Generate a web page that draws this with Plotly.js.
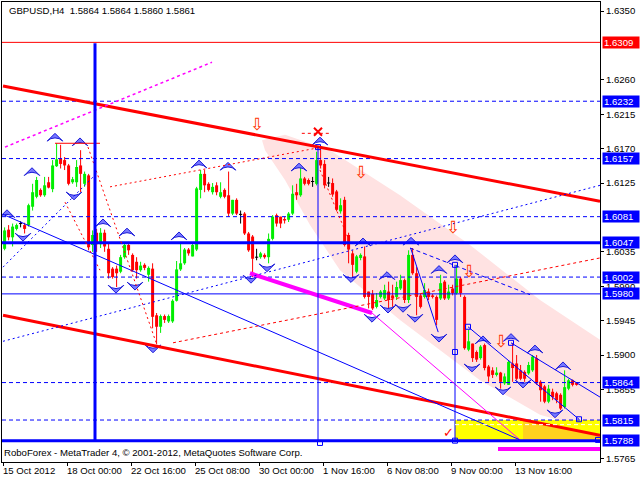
<!DOCTYPE html>
<html><head><meta charset="utf-8">
<script src="https://cdn.plot.ly/plotly-3.0.1.min.js"></script>
<style>html,body{margin:0;padding:0;background:#fff}#chart{width:640px;height:480px}</style>
</head><body><div id="chart"></div>
<script>
// ---- GBPUSD H4 candles (bar index = position) ----
const openP = [1.6039,1.6064,1.6054,1.6065,1.6072,1.6070,1.6070,1.6094,1.6107,1.6116,
1.6109,1.6126,1.6117,1.6147,1.6157,1.6155,1.6148,1.6126,1.6126,1.6148,
1.6124,1.6135,1.6044,1.6060,1.6045,1.6060,1.6039,1.6013,1.6013,1.6009,
1.6028,1.6044,1.6031,1.6022,1.6011,1.6018,1.6005,1.6013,1.5952,1.5937,
1.5951,1.5944,1.5944,1.5971,1.6012,1.6020,1.6038,1.6029,1.6038,1.6116,
1.6137,1.6124,1.6113,1.6122,1.6107,1.6116,1.6109,1.6085,1.6103,1.6084,
1.6085,1.6059,1.6055,1.6028,1.6028,1.6031,1.6028,1.6052,1.6083,1.6081,
1.6078,1.6077,1.6085,1.6113,1.6109,1.6131,1.6129,1.6127,1.6124,1.6155,
1.6150,1.6125,1.6125,1.6114,1.6088,1.6103,1.6057,1.6033,1.6009,1.6027,
1.6029,1.5983,1.5980,1.5963,1.5976,1.5974,1.5983,1.5978,1.5976,1.5987,
1.5998,1.5972,1.6031,1.6007,1.5978,1.5976,1.5983,1.5978,1.5976,1.5974,
1.5996,1.5974,1.5987,1.5981,1.6000,1.5976,1.5907,1.5915,1.5904,1.5896,
1.5913,1.5885,1.5880,1.5874,1.5877,1.5863,1.5861,1.5889,1.5889,1.5880,
1.5878,1.5876,1.5880,1.5896,1.5865,1.5859,1.5839,1.5852,1.5850,1.5848,
1.5832,1.5856,1.5867,1.5864];
const highP = [1.6067,1.6070,1.6072,1.6072,1.6075,1.6073,1.6098,1.6124,1.6133,1.6118,
1.6133,1.6133,1.6155,1.6177,1.6175,1.6159,1.6150,1.6133,1.6155,1.6168,
1.6140,1.6137,1.6063,1.6065,1.6066,1.6064,1.6046,1.6015,1.6017,1.6031,
1.6048,1.6048,1.6033,1.6028,1.6022,1.6020,1.6016,1.6020,1.5955,1.5953,
1.5953,1.5953,1.5973,1.6023,1.6047,1.6040,1.6040,1.6047,1.6120,1.6142,
1.6142,1.6126,1.6125,1.6126,1.6126,1.6118,1.6140,1.6103,1.6105,1.6089,
1.6087,1.6061,1.6057,1.6039,1.6035,1.6033,1.6059,1.6083,1.6085,1.6081,
1.6081,1.6087,1.6122,1.6124,1.6146,1.6133,1.6131,1.6133,1.6166,1.6172,
1.6155,1.6133,1.6131,1.6116,1.6105,1.6107,1.6060,1.6037,1.6031,1.6033,
1.6042,1.5983,1.5985,1.5981,1.5985,1.5992,1.5996,1.5992,1.5996,1.6005,
1.6000,1.6037,1.6040,1.6015,1.5980,1.5994,1.5987,1.5980,1.5978,1.6005,
1.5998,1.5992,1.5992,1.6018,1.6002,1.5978,1.5933,1.5915,1.5906,1.5913,
1.5915,1.5887,1.5884,1.5884,1.5878,1.5876,1.5893,1.5915,1.5900,1.5887,
1.5880,1.5891,1.5900,1.5900,1.5867,1.5861,1.5861,1.5856,1.5852,1.5850,
1.5880,1.5869,1.5868,1.5864];
const lowP = [1.6037,1.6050,1.6042,1.6063,1.6067,1.6059,1.6068,1.6089,1.6105,1.6107,
1.6107,1.6118,1.6113,1.6146,1.6144,1.6142,1.6122,1.6124,1.6120,1.6113,
1.6120,1.6037,1.6035,1.6035,1.6040,1.6035,1.6000,1.6000,1.5989,1.6007,
1.6026,1.6031,1.6009,1.6000,1.6009,1.6011,1.5996,1.5935,1.5914,1.5929,
1.5942,1.5942,1.5942,1.5970,1.6010,1.6018,1.6030,1.6029,1.6036,1.6105,
1.6113,1.6114,1.6110,1.6109,1.6105,1.6105,1.6081,1.6083,1.6083,1.6072,
1.6057,1.6035,1.6002,1.6024,1.6026,1.6026,1.6020,1.6050,1.6068,1.6066,
1.6072,1.6074,1.6083,1.6103,1.6107,1.6122,1.6122,1.6120,1.6122,1.6144,
1.6118,1.6120,1.6107,1.6088,1.6085,1.6042,1.6020,1.6000,1.6007,1.6024,
1.5974,1.5961,1.5959,1.5961,1.5974,1.5972,1.5961,1.5963,1.5972,1.5985,
1.5968,1.5968,1.6005,1.5952,1.5961,1.5974,1.5972,1.5974,1.5939,1.5972,
1.5972,1.5972,1.5978,1.5979,1.5976,1.5907,1.5905,1.5891,1.5891,1.5894,
1.5880,1.5865,1.5870,1.5872,1.5856,1.5861,1.5861,1.5865,1.5867,1.5867,
1.5865,1.5874,1.5878,1.5861,1.5839,1.5837,1.5837,1.5841,1.5837,1.5828,
1.5830,1.5854,1.5859,1.5860];
const closeP = [1.6063,1.6054,1.6068,1.6070,1.6072,1.6065,1.6096,1.6113,1.6129,1.6109,
1.6122,1.6119,1.6148,1.6156,1.6150,1.6148,1.6124,1.6130,1.6146,1.6137,
1.6137,1.6041,1.6057,1.6045,1.6060,1.6042,1.6007,1.6002,1.6007,1.6028,
1.6044,1.6037,1.6011,1.6011,1.6017,1.6014,1.6014,1.5950,1.5937,1.5951,
1.5946,1.5951,1.5971,1.6012,1.6020,1.6038,1.6033,1.6044,1.6118,1.6137,
1.6122,1.6116,1.6120,1.6113,1.6113,1.6107,1.6085,1.6103,1.6085,1.6084,
1.6059,1.6037,1.6026,1.6028,1.6033,1.6028,1.6052,1.6081,1.6072,1.6072,
1.6076,1.6085,1.6111,1.6109,1.6131,1.6124,1.6124,1.6127,1.6155,1.6148,
1.6122,1.6125,1.6110,1.6090,1.6096,1.6044,1.6038,1.6018,1.6029,1.6031,
1.5976,1.5976,1.5961,1.5972,1.5983,1.5985,1.5972,1.5974,1.5989,1.5998,
1.5972,1.6031,1.6007,1.5976,1.5963,1.5985,1.5976,1.5976,1.5946,1.5994,
1.5974,1.5983,1.5981,1.6000,1.5981,1.5909,1.5918,1.5896,1.5894,1.5911,
1.5883,1.5872,1.5874,1.5877,1.5865,1.5872,1.5891,1.5883,1.5869,1.5869,
1.5869,1.5887,1.5898,1.5863,1.5854,1.5839,1.5856,1.5845,1.5841,1.5830,
1.5858,1.5867,1.5861,1.5861];

const xTickBars = [0,16,32,48,64,80,96,112,128];
const xTickLabels = ['15 Oct 2012','18 Oct 00:00','22 Oct 16:00','25 Oct 08:00','30 Oct 00:00',
  '1 Nov 16:00','6 Nov 08:00','9 Nov 00:00','13 Nov 16:00'];
// price-scale ticks that are not hidden behind a level label
const yTickVals = [1.5765,1.5855,1.5900,1.5945,1.5990,1.6035,1.6125,1.6170,1.6215,1.6260,1.6350];

// horizontal levels and their right-axis labels
const levelPrices = [1.6309,1.6232,1.6157,1.6081,1.6047,1.6002,1.5980,1.5864,1.5815,1.5788];
const levelColors = ['#FF0000','#0000FF','#0000FF','#0000FF','#0000FF','#0000FF','#0000FF','#0000FF','#0000FF','#0000FF'];
const levelWidths = [1,1,1,1,3,1,1,1,1,3];
const levelDash   = ['solid','4px,3px','4px,3px','4px,3px','solid','4px,3px','solid','4px,3px','4px,3px','solid'];

// fractal arrows (bar, price)
const upArrowBar   = [0.6,6.85,12.6,18.85,24.6,30.6,43.6,48.6,55.85,73.6,78.85,89.6,95.6,101.6,108.6,112.6,119.6,126.6,132.6,139.6];
const upArrowPrice = [1.6090,1.6145,1.6190,1.6184,1.6078,1.6066,1.6061,1.6155,1.6152,1.6151,1.6185,1.6053,1.6009,1.6054,1.6017,1.6031,1.5925,1.5928,1.5913,1.5891];
const dnArrowBar   = [4.6,17.35,27.85,32.6,37.1,61.6,65.6,86.6,91.85,95.85,99.6,102.6,108.6,116.85,124.6,129.6,137.6];
const dnArrowPrice = [1.6049,1.6103,1.5981,1.5985,1.5903,1.5994,1.6009,1.5995,1.5943,1.5955,1.5956,1.5943,1.5917,1.5878,1.5848,1.5857,1.5818];
// red hollow sell arrows
const sellArrowBar   = [63.1,89.1,112.1,116.1,124.1];
const sellArrowPrice = [1.6202,1.6139,1.6067,1.6010,1.5918];
// small square anchors
const anchorBar   = [78.35,78.85,112.6,112.6,112.6,115.85,126.6,143.6,148.35];
const anchorPrice = [1.6172,1.5785,1.6018,1.5904,1.5788,1.5937,1.5916,1.5816,1.5789];

// drawn trend lines: [bar0, price0, bar1, price1, color, width, dash]
const trendLines = [
  [-0.4,1.6252,148.85,1.6101,'#FF0000',3,'solid'],
  [-0.4,1.5952,148.85,1.5795,'#FF0000',3,'solid'],
  [61.35,1.6007,91.85,1.5955,'#FF00FF',4,'solid'],
  [91.85,1.5955,128.85,1.5789,'#FF00FF',1,'solid'],
  [0.1,1.6172,51.85,1.6283,'#FF00FF',1.5,'3px,3px'],
  [-0.4,1.6084,128.85,1.5789,'#0000FF',1,'solid'],
  [-0.4,1.5918,148.85,1.6122,'#0000FF',1,'2px,3px'],
  [-0.4,1.6015,23.1,1.6138,'#0000FF',1,'2px,3px'],
  [26.35,1.6120,78.35,1.6171,'#FF0000',1,'2px,3px'],
  [42.1,1.5916,148.85,1.6027,'#FF0000',1,'3px,3px'],
  [20.85,1.6172,38.1,1.5913,'#FF0000',1,'2px,3px'],
  [15.1,1.6100,23.85,1.6011,'#FF0000',1,'2px,3px'],
  [78.85,1.6142,86.35,1.6047,'#FF0000',1,'2px,3px'],
  [12.6,1.6177,23.85,1.6177,'#FF0000',1,'solid'],
  [74.3,1.6190,81.35,1.6190,'#FF0000',1,'3px,3px'],
  [101.5,1.6040,108.4,1.5930,'#0000FF',1,'solid'],
  [101.35,1.6040,131.35,1.5979,'#0000FF',1,'4px,3px'],
  [115.85,1.5937,143.6,1.5816,'#0000FF',1,'solid'],
  [126.6,1.5916,148.85,1.5845,'#0000FF',1,'solid'],
  [123.35,1.5777,148.85,1.5777,'#FF00FF',4,'solid'],
  [22.6,1.6308,22.6,1.5789,'#0000FF',3,'solid'],
  [78.35,1.6172,78.35,1.5789,'#0000FF',1,'solid'],
  [112.6,1.6018,112.6,1.5789,'#0000FF',1,'solid'],
  [112.6,1.5809,148.85,1.5809,'#FFFFFF',1,'4px,3px']
];
// pink forecast channel outline (bar, price)
const channelBar   = [64.35,70.1,81.35,98.85,116.35,133.85,148.85,148.85,133.85,118.85,98.85,83.85,76.35,70.1,65.1];
const channelPrice = [1.6181,1.6188,1.6168,1.6109,1.6044,1.5972,1.5920,1.5799,1.5822,1.5867,1.5946,1.6011,1.6070,1.6129,1.6168];
// yellow target zone and its darker lower-right part
const zoneBar = [112.6,148.85];
const zonePrice = [1.5788,1.5815];
const goldBar   = [129.6,148.85,148.85,129.6];
const goldPrice = [1.5815,1.5795,1.5788,1.5788];

// ---- build traces ----
const idx = openP.map((_, i) => i);
const up = idx.filter(i => closeP[i] > openP[i]);
const dn = idx.filter(i => closeP[i] < openP[i]);
const dj = idx.filter(i => closeP[i] === openP[i]);
const GREEN = '#00EE00', RED = '#FF0000';

function wick(ids, color) {
  const x = [], y = [];
  ids.forEach(i => { x.push(i, i, null); y.push(lowP[i], highP[i], null); });
  return {type:'scatter', mode:'lines', x, y, line:{color, width:1}, hoverinfo:'skip', showlegend:false};
}
function body(ids, color) {
  return {type:'bar', x: ids, base: ids.map(i => Math.min(openP[i], closeP[i])),
    y: ids.map(i => Math.abs(closeP[i] - openP[i])), width: 0.75,
    marker:{color, line:{width:0}}, hoverinfo:'skip', showlegend:false};
}
const dojiTick = (() => {
  const x = [], y = [];
  dj.forEach(i => { x.push(i - 0.4, i + 0.4, null); y.push(openP[i], openP[i], null); });
  return {type:'scatter', mode:'lines', x, y, line:{color:'#000', width:1}, hoverinfo:'skip', showlegend:false};
})();

const arrowMarker = angle => ({symbol:'arrow-wide', size:11, angle, color:'#7878FF', line:{color:'#1818D8', width:1}});
const traces = [
  wick(up, GREEN), wick(dn, RED), wick(dj, '#000'),
  body(up, GREEN), body(dn, RED), dojiTick,
  {type:'scatter', mode:'markers', x: upArrowBar, y: upArrowPrice, marker: arrowMarker(0), hoverinfo:'skip', showlegend:false},
  {type:'scatter', mode:'markers', x: dnArrowBar, y: dnArrowPrice, marker: arrowMarker(180), hoverinfo:'skip', showlegend:false},
  {type:'scatter', mode:'markers', x: anchorBar, y: anchorPrice,
   marker:{symbol:'square-open', size:5, color:'#0000FF', line:{width:1}}, hoverinfo:'skip', showlegend:false},
  {type:'scatter', mode:'markers', x: [78.35], y: [1.6192],
   marker:{symbol:'x-thin', size:8, line:{color:'#FF0000', width:2}}, hoverinfo:'skip', showlegend:false}
];

// ---- shapes ----
const toPath = (bs, ps) => bs.map((b, k) => (k ? 'L' : 'M') + b + ',' + ps[k]).join(' ') + ' Z';
const shapes = [];
shapes.push({type:'path', path: toPath(channelBar, channelPrice), xref:'x', yref:'y', fillcolor:'#FFE2E2', line:{width:0}, layer:'below'});
shapes.push({type:'rect', xref:'x', yref:'y', x0: zoneBar[0], x1: zoneBar[1], y0: zonePrice[0], y1: zonePrice[1],
  fillcolor:'#FFFF00', line:{width:0}, layer:'below'});
shapes.push({type:'path', path: toPath(goldBar, goldPrice), xref:'x', yref:'y', fillcolor:'#FFD21E', line:{width:0}, layer:'below'});
levelPrices.forEach((p, k) => shapes.push({type:'line', xref:'paper', yref:'y', x0:0, x1:1, y0:p, y1:p,
  line:{color: levelColors[k], width: levelWidths[k], dash: levelDash[k]}, layer:'above'}));
trendLines.forEach(t => shapes.push({type:'line', xref:'x', yref:'y', x0:t[0], y0:t[1], x1:t[2], y1:t[3],
  line:{color:t[4], width:t[5], dash:t[6]}, layer:'above'}));

// ---- annotations ----
const FONT = 'Liberation Sans, Arial, sans-serif';
const XMIN = -0.65, XMAX = 148.85;
const annotations = [];
annotations.push({xref:'paper', yref:'paper', x:0.008, y:0.9826, xanchor:'left', yanchor:'middle', showarrow:false,
  text:'GBPUSD,H4  1.5864 1.5864 1.5860 1.5861', font:{family:FONT, size:9.6, color:'#000'}});
annotations.push({xref:'paper', yref:'paper', x:0.0, y:0.0196, xanchor:'left', yanchor:'middle', showarrow:false,
  text:'RoboForex - MetaTrader 4, © 2001-2012, MetaQuotes Software Corp.', font:{family:FONT, size:9.6, color:'#000'}});
xTickBars.forEach((b, k) => annotations.push({xref:'paper', yref:'paper', x: (b - 0.9 - XMIN) / (XMAX - XMIN), y: -0.0185,
  xanchor:'left', yanchor:'middle', showarrow:false, text: xTickLabels[k], font:{family:FONT, size:9.6, color:'#000'}}));
levelPrices.forEach((p, k) => annotations.push({xref:'paper', yref:'y', x:1.0033, y:p, xanchor:'left', yanchor:'middle',
  showarrow:false, text: p.toFixed(4), bgcolor: levelColors[k], width:34, height:9, borderpad:1, align:'left',
  font:{family:FONT, size:9.6, color:'#FFFFFF'}}));
sellArrowBar.forEach((b, k) => annotations.push({xref:'x', yref:'y', x:b, y:sellArrowPrice[k], showarrow:false,
  text:'⇩', font:{family:'DejaVu Sans', size:17, color:'#FF3300'}}));
annotations.push({xref:'x', yref:'y', x:110.85, y:1.5799, showarrow:false, text:'✓', font:{family:'DejaVu Sans', size:13, color:'#FF0000'}});

const layout = {
  width:640, height:480, margin:{l:2, r:40, t:2, b:18},
  paper_bgcolor:'#FFFFFF', plot_bgcolor:'#FFFFFF', showlegend:false, barmode:'overlay',
  xaxis:{range:[XMIN, XMAX], showgrid:false, zeroline:false, showline:true, mirror:true, linecolor:'#000', linewidth:1,
    tickvals: xTickBars.map(b => b - 0.4), ticks:'outside', ticklen:3, tickcolor:'#000', showticklabels:false, fixedrange:true},
  yaxis:{side:'right', range:[1.57601,1.63618], showgrid:false, zeroline:false, showline:true, mirror:true, linecolor:'#000', linewidth:1,
    tickvals: yTickVals, ticktext: yTickVals.map(v => v.toFixed(4)), ticks:'outside', ticklen:3, tickcolor:'#000',
    tickfont:{family:FONT, size:9.6, color:'#000'}, fixedrange:true},
  shapes, annotations
};
Plotly.newPlot('chart', traces, layout, {displayModeBar:false, staticPlot:true});
</script></body></html>
